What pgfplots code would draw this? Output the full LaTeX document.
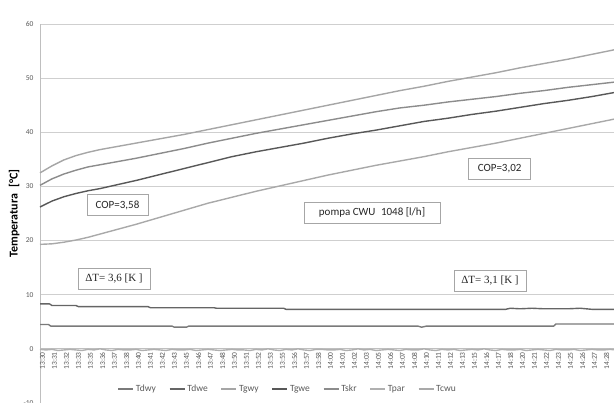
\documentclass[border=0pt]{standalone}
\usepackage{pgfplots}
\pgfplotsset{compat=1.18}
\usepackage{fontspec}
\setmainfont{Carlito}
\newfontfamily\serifbox{Liberation Serif}

\definecolor{cTdwy}{HTML}{7A7A7A}
\definecolor{cTdwe}{HTML}{656565}
\definecolor{cTgwy}{HTML}{A6A6A6}
\definecolor{cTgwe}{HTML}{585858}
\definecolor{cTskr}{HTML}{8C8C8C}
\definecolor{cTpar}{HTML}{B0B0B0}
\definecolor{cTcwu}{HTML}{A9A9A9}
\definecolor{gridc}{HTML}{CFCFCF}
\definecolor{axisc}{HTML}{BFBFBF}
\definecolor{labc}{HTML}{595959}
\definecolor{boxc}{HTML}{A6A6A6}

\begin{document}
\begin{tikzpicture}
\begin{axis}[
  at={(40bp,0bp)}, anchor=south west,
  scale only axis, width=576bp, height=379bp,
  xmin=0, xmax=48, ymin=-10, ymax=60,
  axis x line=middle, axis y line=left,
  hide obscured x ticks=false, hide obscured y ticks=false,
  axis line style={-, draw=axisc, line width=0.8bp},
  ytick={-10,0,10,20,30,40,50,60},
  ymajorgrids, major grid style={draw=gridc, line width=0.8bp},
  xtick={0,...,47},
  xticklabels={13:30,13:31,13:32,13:33,13:35,13:36,13:37,13:38,13:40,13:41,13:42,13:43,13:45,13:46,13:47,13:48,13:50,13:51,13:52,13:53,13:55,13:56,13:57,13:58,14:00,14:01,14:02,14:03,14:05,14:06,14:07,14:08,14:10,14:11,14:12,14:13,14:15,14:16,14:17,14:18,14:20,14:21,14:22,14:23,14:25,14:26,14:27,14:28},
  major tick length=0pt,
  /pgf/number format/assume math mode=true,
  tick label style={font=\fontsize{7.5bp}{8bp}\selectfont, text=labc},
  xticklabel style={rotate=90, anchor=east, yshift=-2.5bp},
  yticklabel style={anchor=east, xshift=-3bp},
  ylabel={Temperatura\enspace[°C]},
  ylabel style={font=\fontsize{12bp}{13bp}\selectfont\bfseries, at={(axis description cs:-0.045,0.5)}, anchor=center},
  legend columns=7,
  legend style={at={(axis description cs:0.43,0.037)}, anchor=center, draw=none, fill=none,
    font=\fontsize{9.5bp}{10bp}\selectfont, text=labc,
    /tikz/every even column/.append style={column sep=11bp}},
  legend image code/.code={\draw[#1] (0bp,0bp) -- (15bp,0bp);},
  every axis plot/.append style={line width=1.4bp, line join=round},
  clip=false,
]
% Tdwy - lower source outlet
\addplot[cTdwy] coordinates {(0,4.5) (0.7,4.5) (0.9,4.2) (11,4.2) (11.2,4.0) (12.2,4.0) (12.4,4.2) (31.5,4.2) (31.8,4.0) (32.2,4.2) (42.8,4.2) (43,4.6) (48,4.6)};
\addlegendentry{Tdwy}
% Tdwe - lower source inlet
\addplot[cTdwe] coordinates {(0,8.3) (0.8,8.3) (1,8.0) (3,8.0) (3.2,7.8) (9,7.8) (9.2,7.6) (14.5,7.6) (14.7,7.5) (20.3,7.5) (20.5,7.3) (38.8,7.3) (39.2,7.5) (40,7.4) (41,7.5) (42,7.4) (44,7.4) (45,7.5) (46,7.3) (48,7.3)};
\addlegendentry{Tdwe}
% Tgwy - upper outlet
\addplot[cTgwy] coordinates {(0,32.5) (1,33.8) (2,34.9) (3,35.7) (4,36.3) (5,36.8) (6,37.2) (7,37.6) (8,38.0) (10,38.8) (12,39.6) (14,40.5) (16,41.4) (18,42.3) (20,43.2) (22,44.1) (24,45.0) (26,45.9) (28,46.8) (30,47.7) (32,48.5) (34,49.4) (36,50.2) (38,51.0) (40,51.9) (42,52.7) (44,53.5) (46,54.4) (48,55.3)};
\addlegendentry{Tgwy}
% Tgwe - upper inlet
\addplot[cTgwe] coordinates {(0,26.2) (1,27.3) (2,28.1) (3,28.7) (4,29.2) (5,29.6) (6,30.1) (7,30.6) (8,31.1) (10,32.2) (12,33.3) (14,34.4) (16,35.5) (18,36.4) (20,37.2) (22,38.0) (24,38.9) (26,39.7) (28,40.4) (30,41.2) (32,42.0) (34,42.6) (36,43.3) (38,43.9) (40,44.6) (42,45.3) (44,45.9) (46,46.6) (48,47.4)};
\addlegendentry{Tgwe}
% Tskr
\addplot[cTskr] coordinates {(0,30.2) (1,31.4) (2,32.3) (3,33.0) (4,33.6) (5,34.0) (6,34.4) (7,34.8) (8,35.2) (10,36.1) (12,37.0) (14,38.0) (16,38.9) (18,39.8) (20,40.6) (22,41.4) (24,42.2) (26,43.0) (28,43.8) (30,44.5) (32,45.0) (34,45.6) (36,46.1) (38,46.6) (40,47.2) (42,47.7) (44,48.3) (46,48.8) (48,49.3)};
\addlegendentry{Tskr}
% Tpar
\addplot[cTpar] coordinates {(0,-0.1) (0.5,-0.2) (1,-0.1) (1.5,-0.3) (2,-0.2) (2.5,-0.1) (3,-0.2) (3.5,-0.3) (4,-0.1) (4.5,-0.2) (5,0.0) (5.5,-0.2) (6,-0.3) (6.5,-0.1) (7,-0.2) (7.5,-0.2) (8,-0.1) (8.5,-0.3) (9,-0.2) (9.5,-0.1) (10,-0.2) (10.5,-0.3) (11,-0.1) (11.5,-0.2) (12,-0.2) (12.5,-0.1) (13,-0.3) (13.5,-0.2) (14,-0.1) (14.5,-0.2) (15,-0.3) (15.5,-0.2) (16,-0.1) (16.5,-0.2) (17,-0.2) (17.5,-0.3) (18,-0.1) (18.5,-0.2) (19,0.0) (19.5,-0.2) (20,-0.3) (20.5,-0.1) (21,-0.2) (21.5,0.0) (22,-0.2) (22.5,-0.3) (23,-0.1) (23.5,-0.1) (24,-0.2) (24.5,-0.2) (25,-0.1) (25.5,-0.3) (26,-0.2) (26.5,0.0) (27,-0.2) (27.5,-0.1) (28,-0.3) (28.5,-0.2) (29,-0.1) (29.5,-0.2) (30,-0.3) (30.5,-0.1) (31,-0.2) (31.5,-0.2) (32,0.0) (32.5,-0.2) (33,-0.3) (33.5,-0.1) (34,-0.2) (34.5,-0.1) (35,-0.3) (35.5,-0.2) (36,-0.1) (36.5,-0.2) (37,0.0) (37.5,-0.2) (38,-0.3) (38.5,-0.1) (39,-0.2) (39.5,-0.2) (40,-0.1) (40.5,-0.3) (41,-0.2) (41.5,-0.1) (42,-0.2) (42.5,-0.3) (43,-0.1) (43.5,-0.2) (44,-0.2) (44.5,-0.1) (45,-0.3) (45.5,-0.2) (46,-0.1) (46.5,-0.2) (47,-0.2) (47.5,-0.1) (48,-0.2)};
\addlegendentry{Tpar}
% Tcwu - hot water tank
\addplot[cTcwu] coordinates {(0,19.3) (1,19.4) (2,19.7) (3,20.1) (4,20.6) (5,21.2) (6,21.8) (7,22.4) (8,23.0) (10,24.3) (12,25.6) (14,26.9) (16,28.0) (18,29.1) (20,30.1) (22,31.1) (24,32.1) (26,33.0) (28,33.9) (30,34.7) (32,35.5) (34,36.4) (36,37.2) (38,38.0) (40,38.9) (42,39.8) (44,40.7) (46,41.6) (48,42.5)};
\addlegendentry{Tcwu}

% annotation boxes
\tikzset{annot/.style={draw=boxc, line width=0.8bp, fill=white, minimum height=21bp, inner sep=0pt, font=\fontsize{11bp}{12bp}\selectfont, text=black!85}}
\node[annot, minimum width=61bp] at (axis cs:6.46,26.5) {COP=3,58};
\node[annot, minimum width=62bp] at (axis cs:38.3,33.3) {COP=3,02};
\node[annot, minimum width=136bp] at (axis cs:27.67,25.2) {pompa CWU\enspace 1048 [l/h]};
\node[annot, minimum width=72bp, font=\serifbox\fontsize{11bp}{12bp}\selectfont] at (axis cs:6.17,13.0) {ΔT= 3,6 [K ]};
\node[annot, minimum width=72bp, font=\serifbox\fontsize{11bp}{12bp}\selectfont] at (axis cs:37.5,12.6) {ΔT= 3,1 [K ]};
\end{axis}
\pgfresetboundingbox
\useasboundingbox (0,0) rectangle (614bp,403bp);
\end{tikzpicture}
\end{document}
